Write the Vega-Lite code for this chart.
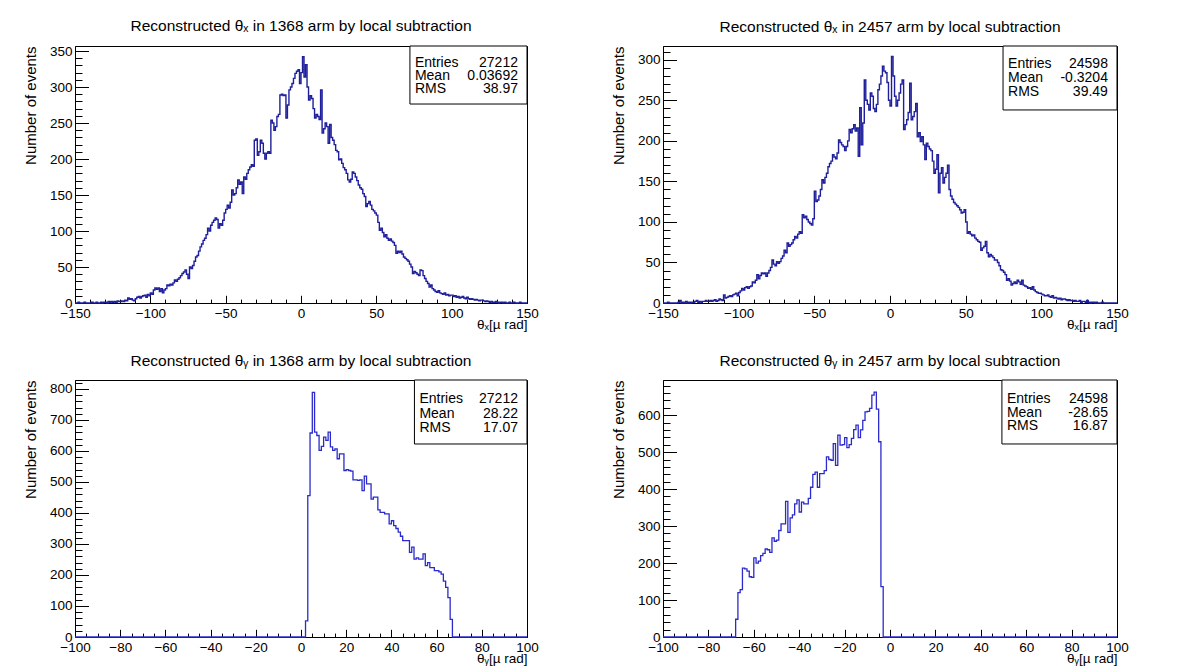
{
"$schema": "https://vega.github.io/schema/vega-lite/v6.json",
"background": "white",
"padding": {"left": 22, "top": 18, "right": 5, "bottom": 0},
"config": {
  "font": "Liberation Sans",
  "view": {"stroke": "black", "strokeWidth": 1},
  "axis": {"grid": false, "domainColor": "black", "tickColor": "black", "labelColor": "black", "titleColor": "black", "labelFont": "Liberation Sans", "titleFont": "Liberation Sans", "labelFontSize": 13.5, "titleFontSize": 15, "titleFontWeight": "normal", "labelFlush": false, "labelOverlap": false, "labelBound": false, "domainWidth": 1, "tickWidth": 1},
  "title": {"font": "Liberation Sans", "fontSize": 15.5, "fontWeight": "normal", "color": "black", "offset": 10}
},
"datasets": {
"h1": [
{"x":-150,"n":0},{"x":-149,"n":0},{"x":-148,"n":1},{"x":-147,"n":0},{"x":-146,"n":0},{"x":-145,"n":0},{"x":-144,"n":1},{"x":-143,"n":0},{"x":-142,"n":0},{"x":-141,"n":0},
{"x":-140,"n":0},{"x":-139,"n":1},{"x":-138,"n":0},{"x":-137,"n":0},{"x":-136,"n":1},{"x":-135,"n":0},{"x":-134,"n":0},{"x":-133,"n":1},{"x":-132,"n":0},{"x":-131,"n":1},
{"x":-130,"n":1},{"x":-129,"n":0},{"x":-128,"n":2},{"x":-127,"n":1},{"x":-126,"n":2},{"x":-125,"n":1},{"x":-124,"n":2},{"x":-123,"n":1},{"x":-122,"n":3},{"x":-121,"n":2},
{"x":-120,"n":2},{"x":-119,"n":3},{"x":-118,"n":2},{"x":-117,"n":4},{"x":-116,"n":3},{"x":-115,"n":7},{"x":-114,"n":5},{"x":-113,"n":6},{"x":-112,"n":4},{"x":-111,"n":3},
{"x":-110,"n":6},{"x":-109,"n":8},{"x":-108,"n":9},{"x":-107,"n":7},{"x":-106,"n":9},{"x":-105,"n":10},{"x":-104,"n":11},{"x":-103,"n":8},{"x":-102,"n":12},{"x":-101,"n":10},
{"x":-100,"n":14},{"x":-99,"n":12},{"x":-98,"n":18},{"x":-97,"n":21},{"x":-96,"n":19},{"x":-95,"n":21},{"x":-94,"n":16},{"x":-93,"n":20},{"x":-92,"n":14},{"x":-91,"n":18},
{"x":-90,"n":20},{"x":-89,"n":25},{"x":-88,"n":24},{"x":-87,"n":26},{"x":-86,"n":25},{"x":-85,"n":28},{"x":-84,"n":32},{"x":-83,"n":30},{"x":-82,"n":33},{"x":-81,"n":35},
{"x":-80,"n":38},{"x":-79,"n":41},{"x":-78,"n":43},{"x":-77,"n":46},{"x":-76,"n":40},{"x":-75,"n":34},{"x":-74,"n":50},{"x":-73,"n":48},{"x":-72,"n":52},{"x":-71,"n":58},
{"x":-70,"n":64},{"x":-69,"n":66},{"x":-68,"n":72},{"x":-67,"n":78},{"x":-66,"n":82},{"x":-65,"n":87},{"x":-64,"n":90},{"x":-63,"n":95},{"x":-62,"n":104},{"x":-61,"n":100},
{"x":-60,"n":108},{"x":-59,"n":112},{"x":-58,"n":115},{"x":-57,"n":118},{"x":-56,"n":116},{"x":-55,"n":104},{"x":-54,"n":110},{"x":-53,"n":108},{"x":-52,"n":115},{"x":-51,"n":125},
{"x":-50,"n":130},{"x":-49,"n":136},{"x":-48,"n":132},{"x":-47,"n":140},{"x":-46,"n":157},{"x":-45,"n":150},{"x":-44,"n":152},{"x":-43,"n":160},{"x":-42,"n":171},{"x":-41,"n":165},
{"x":-40,"n":168},{"x":-39,"n":152},{"x":-38,"n":175},{"x":-37,"n":172},{"x":-36,"n":180},{"x":-35,"n":185},{"x":-34,"n":189},{"x":-33,"n":192},{"x":-32,"n":190},{"x":-31,"n":226},
{"x":-30,"n":228},{"x":-29,"n":205},{"x":-28,"n":210},{"x":-27,"n":226},{"x":-26,"n":222},{"x":-25,"n":208},{"x":-24,"n":200},{"x":-23,"n":208},{"x":-22,"n":210},{"x":-21,"n":208},
{"x":-20,"n":254},{"x":-19,"n":250},{"x":-18,"n":240},{"x":-17,"n":245},{"x":-16,"n":259},{"x":-15,"n":262},{"x":-14,"n":289},{"x":-13,"n":290},{"x":-12,"n":288},{"x":-11,"n":289},
{"x":-10,"n":257},{"x":-9,"n":275},{"x":-8,"n":296},{"x":-7,"n":300},{"x":-6,"n":305},{"x":-5,"n":312},{"x":-4,"n":319},{"x":-3,"n":322},{"x":-2,"n":324},{"x":-1,"n":305},
{"x":0,"n":320},{"x":1,"n":342},{"x":2,"n":314},{"x":3,"n":331},{"x":4,"n":300},{"x":5,"n":282},{"x":6,"n":288},{"x":7,"n":284},{"x":8,"n":270},{"x":9,"n":257},
{"x":10,"n":262},{"x":11,"n":259},{"x":12,"n":255},{"x":13,"n":296},{"x":14,"n":236},{"x":15,"n":242},{"x":16,"n":250},{"x":17,"n":245},{"x":18,"n":222},{"x":19,"n":248},
{"x":20,"n":230},{"x":21,"n":226},{"x":22,"n":220},{"x":23,"n":212},{"x":24,"n":210},{"x":25,"n":199},{"x":26,"n":200},{"x":27,"n":194},{"x":28,"n":188},{"x":29,"n":185},
{"x":30,"n":180},{"x":31,"n":171},{"x":32,"n":168},{"x":33,"n":172},{"x":34,"n":182},{"x":35,"n":180},{"x":36,"n":175},{"x":37,"n":170},{"x":38,"n":164},{"x":39,"n":160},
{"x":40,"n":158},{"x":41,"n":152},{"x":42,"n":148},{"x":43,"n":134},{"x":44,"n":138},{"x":45,"n":141},{"x":46,"n":136},{"x":47,"n":130},{"x":48,"n":128},{"x":49,"n":125},
{"x":50,"n":122},{"x":51,"n":112},{"x":52,"n":101},{"x":53,"n":104},{"x":54,"n":98},{"x":55,"n":92},{"x":56,"n":95},{"x":57,"n":90},{"x":58,"n":87},{"x":59,"n":89},
{"x":60,"n":86},{"x":61,"n":84},{"x":62,"n":80},{"x":63,"n":69},{"x":64,"n":72},{"x":65,"n":70},{"x":66,"n":72},{"x":67,"n":68},{"x":68,"n":64},{"x":69,"n":62},
{"x":70,"n":60},{"x":71,"n":58},{"x":72,"n":54},{"x":73,"n":50},{"x":74,"n":41},{"x":75,"n":44},{"x":76,"n":42},{"x":77,"n":40},{"x":78,"n":38},{"x":79,"n":46},
{"x":80,"n":45},{"x":81,"n":38},{"x":82,"n":34},{"x":83,"n":30},{"x":84,"n":27},{"x":85,"n":22},{"x":86,"n":25},{"x":87,"n":20},{"x":88,"n":18},{"x":89,"n":16},
{"x":90,"n":15},{"x":91,"n":17},{"x":92,"n":14},{"x":93,"n":13},{"x":94,"n":12},{"x":95,"n":14},{"x":96,"n":11},{"x":97,"n":12},{"x":98,"n":10},{"x":99,"n":11},
{"x":100,"n":11},{"x":101,"n":9},{"x":102,"n":10},{"x":103,"n":8},{"x":104,"n":9},{"x":105,"n":7},{"x":106,"n":8},{"x":107,"n":9},{"x":108,"n":7},{"x":109,"n":6},
{"x":110,"n":8},{"x":111,"n":6},{"x":112,"n":5},{"x":113,"n":6},{"x":114,"n":5},{"x":115,"n":4},{"x":116,"n":5},{"x":117,"n":4},{"x":118,"n":3},{"x":119,"n":4},
{"x":120,"n":4},{"x":121,"n":3},{"x":122,"n":2},{"x":123,"n":3},{"x":124,"n":2},{"x":125,"n":1},{"x":126,"n":2},{"x":127,"n":1},{"x":128,"n":1},{"x":129,"n":2},
{"x":130,"n":1},{"x":131,"n":0},{"x":132,"n":1},{"x":133,"n":1},{"x":134,"n":0},{"x":135,"n":1},{"x":136,"n":0},{"x":137,"n":0},{"x":138,"n":1},{"x":139,"n":0},
{"x":140,"n":0},{"x":141,"n":1},{"x":142,"n":0},{"x":143,"n":0},{"x":144,"n":0},{"x":145,"n":1},{"x":146,"n":0},{"x":147,"n":0},{"x":148,"n":0},{"x":149,"n":0},{"x":150,"n":0}
],
"h2": [
{"x":-150,"n":0},{"x":-149,"n":0},{"x":-148,"n":0},{"x":-147,"n":1},{"x":-146,"n":0},{"x":-145,"n":0},{"x":-144,"n":0},{"x":-143,"n":0},{"x":-142,"n":0},{"x":-141,"n":0},
{"x":-140,"n":1},{"x":-139,"n":3},{"x":-138,"n":0},{"x":-137,"n":1},{"x":-136,"n":0},{"x":-135,"n":2},{"x":-134,"n":0},{"x":-133,"n":1},{"x":-132,"n":0},{"x":-131,"n":1},
{"x":-130,"n":1},{"x":-129,"n":2},{"x":-128,"n":3},{"x":-127,"n":1},{"x":-126,"n":2},{"x":-125,"n":1},{"x":-124,"n":2},{"x":-123,"n":2},{"x":-122,"n":3},{"x":-121,"n":2},
{"x":-120,"n":2},{"x":-119,"n":3},{"x":-118,"n":2},{"x":-117,"n":3},{"x":-116,"n":4},{"x":-115,"n":2},{"x":-114,"n":3},{"x":-113,"n":5},{"x":-112,"n":4},{"x":-111,"n":3},
{"x":-110,"n":10},{"x":-109,"n":6},{"x":-108,"n":7},{"x":-107,"n":8},{"x":-106,"n":9},{"x":-105,"n":8},{"x":-104,"n":10},{"x":-103,"n":11},{"x":-102,"n":12},{"x":-101,"n":9},
{"x":-100,"n":13},{"x":-99,"n":15},{"x":-98,"n":18},{"x":-97,"n":16},{"x":-96,"n":19},{"x":-95,"n":20},{"x":-94,"n":18},{"x":-93,"n":20},{"x":-92,"n":21},{"x":-91,"n":26},
{"x":-90,"n":25},{"x":-89,"n":28},{"x":-88,"n":35},{"x":-87,"n":30},{"x":-86,"n":34},{"x":-85,"n":37},{"x":-84,"n":36},{"x":-83,"n":37},{"x":-82,"n":33},{"x":-81,"n":37},
{"x":-80,"n":40},{"x":-79,"n":44},{"x":-78,"n":53},{"x":-77,"n":48},{"x":-76,"n":46},{"x":-75,"n":51},{"x":-74,"n":49},{"x":-73,"n":51},{"x":-72,"n":55},{"x":-71,"n":58},
{"x":-70,"n":65},{"x":-69,"n":62},{"x":-68,"n":74},{"x":-67,"n":70},{"x":-66,"n":72},{"x":-65,"n":74},{"x":-64,"n":78},{"x":-63,"n":82},{"x":-62,"n":80},{"x":-61,"n":85},
{"x":-60,"n":88},{"x":-59,"n":86},{"x":-58,"n":109},{"x":-57,"n":105},{"x":-56,"n":107},{"x":-55,"n":103},{"x":-54,"n":100},{"x":-53,"n":98},{"x":-52,"n":96},{"x":-51,"n":104},
{"x":-50,"n":138},{"x":-49,"n":125},{"x":-48,"n":127},{"x":-47,"n":132},{"x":-46,"n":140},{"x":-45,"n":152},{"x":-44,"n":148},{"x":-43,"n":155},{"x":-42,"n":160},{"x":-41,"n":168},
{"x":-40,"n":172},{"x":-39,"n":175},{"x":-38,"n":183},{"x":-37,"n":180},{"x":-36,"n":178},{"x":-35,"n":185},{"x":-34,"n":201},{"x":-33,"n":198},{"x":-32,"n":195},{"x":-31,"n":193},
{"x":-30,"n":188},{"x":-29,"n":193},{"x":-28,"n":200},{"x":-27,"n":214},{"x":-26,"n":210},{"x":-25,"n":215},{"x":-24,"n":220},{"x":-23,"n":212},{"x":-22,"n":216},{"x":-21,"n":181},
{"x":-20,"n":241},{"x":-19,"n":195},{"x":-18,"n":222},{"x":-17,"n":275},{"x":-16,"n":250},{"x":-15,"n":245},{"x":-14,"n":238},{"x":-13,"n":259},{"x":-12,"n":255},{"x":-11,"n":240},
{"x":-10,"n":236},{"x":-9,"n":245},{"x":-8,"n":263},{"x":-7,"n":270},{"x":-6,"n":280},{"x":-5,"n":292},{"x":-4,"n":286},{"x":-3,"n":284},{"x":-2,"n":272},{"x":-1,"n":250},
{"x":0,"n":243},{"x":1,"n":304},{"x":2,"n":280},{"x":3,"n":255},{"x":4,"n":243},{"x":5,"n":250},{"x":6,"n":259},{"x":7,"n":270},{"x":8,"n":275},{"x":9,"n":214},
{"x":10,"n":220},{"x":11,"n":226},{"x":12,"n":235},{"x":13,"n":271},{"x":14,"n":226},{"x":15,"n":230},{"x":16,"n":236},{"x":17,"n":246},{"x":18,"n":205},{"x":19,"n":210},
{"x":20,"n":199},{"x":21,"n":205},{"x":22,"n":195},{"x":23,"n":177},{"x":24,"n":197},{"x":25,"n":193},{"x":26,"n":190},{"x":27,"n":188},{"x":28,"n":175},{"x":29,"n":160},
{"x":30,"n":165},{"x":31,"n":183},{"x":32,"n":136},{"x":33,"n":160},{"x":34,"n":167},{"x":35,"n":148},{"x":36,"n":155},{"x":37,"n":160},{"x":38,"n":170},{"x":39,"n":140},
{"x":40,"n":132},{"x":41,"n":128},{"x":42,"n":124},{"x":43,"n":122},{"x":44,"n":120},{"x":45,"n":118},{"x":46,"n":115},{"x":47,"n":111},{"x":48,"n":112},{"x":49,"n":115},
{"x":50,"n":100},{"x":51,"n":86},{"x":52,"n":88},{"x":53,"n":85},{"x":54,"n":83},{"x":55,"n":84},{"x":56,"n":80},{"x":57,"n":78},{"x":58,"n":76},{"x":59,"n":75},
{"x":60,"n":65},{"x":61,"n":68},{"x":62,"n":70},{"x":63,"n":76},{"x":64,"n":62},{"x":65,"n":57},{"x":66,"n":60},{"x":67,"n":58},{"x":68,"n":56},{"x":69,"n":53},
{"x":70,"n":53},{"x":71,"n":50},{"x":72,"n":46},{"x":73,"n":41},{"x":74,"n":40},{"x":75,"n":38},{"x":76,"n":35},{"x":77,"n":28},{"x":78,"n":30},{"x":79,"n":27},
{"x":80,"n":22},{"x":81,"n":24},{"x":82,"n":26},{"x":83,"n":24},{"x":84,"n":28},{"x":85,"n":26},{"x":86,"n":23},{"x":87,"n":28},{"x":88,"n":22},{"x":89,"n":21},
{"x":90,"n":20},{"x":91,"n":18},{"x":92,"n":19},{"x":93,"n":17},{"x":94,"n":20},{"x":95,"n":16},{"x":96,"n":14},{"x":97,"n":13},{"x":98,"n":12},{"x":99,"n":12},
{"x":100,"n":11},{"x":101,"n":10},{"x":102,"n":9},{"x":103,"n":9},{"x":104,"n":10},{"x":105,"n":8},{"x":106,"n":7},{"x":107,"n":9},{"x":108,"n":6},{"x":109,"n":7},
{"x":110,"n":6},{"x":111,"n":5},{"x":112,"n":6},{"x":113,"n":4},{"x":114,"n":5},{"x":115,"n":5},{"x":116,"n":4},{"x":117,"n":3},{"x":118,"n":4},{"x":119,"n":3},
{"x":120,"n":3},{"x":121,"n":2},{"x":122,"n":3},{"x":123,"n":2},{"x":124,"n":2},{"x":125,"n":3},{"x":126,"n":1},{"x":127,"n":2},{"x":128,"n":2},{"x":129,"n":1},
{"x":130,"n":3},{"x":131,"n":1},{"x":132,"n":0},{"x":133,"n":1},{"x":134,"n":1},{"x":135,"n":0},{"x":136,"n":1},{"x":137,"n":0},{"x":138,"n":0},{"x":139,"n":0},
{"x":140,"n":1},{"x":141,"n":0},{"x":142,"n":0},{"x":143,"n":0},{"x":144,"n":0},{"x":145,"n":0},{"x":146,"n":0},{"x":147,"n":0},{"x":148,"n":0},{"x":149,"n":0},{"x":150,"n":0}
],
"h3": [
{"x":-100,"n":0},{"x":2,"n":52},{"x":3,"n":456},{"x":4,"n":658},{"x":5,"n":789},{"x":6,"n":661},{"x":7,"n":650},{"x":8,"n":602},{"x":9,"n":615},{"x":10,"n":645},
{"x":11,"n":634},{"x":12,"n":661},{"x":13,"n":613},{"x":14,"n":602},{"x":15,"n":607},{"x":16,"n":575},{"x":17,"n":591},{"x":18,"n":591},{"x":19,"n":537},{"x":20,"n":540},
{"x":21,"n":537},{"x":22,"n":535},{"x":23,"n":507},{"x":24,"n":507},{"x":25,"n":505},{"x":26,"n":507},{"x":27,"n":472},{"x":28,"n":519},{"x":29,"n":494},{"x":30,"n":494},
{"x":31,"n":445},{"x":32,"n":451},{"x":33,"n":451},{"x":34,"n":410},{"x":35,"n":402},{"x":36,"n":402},{"x":37,"n":397},{"x":38,"n":397},{"x":39,"n":365},{"x":40,"n":375},
{"x":41,"n":359},{"x":42,"n":350},{"x":43,"n":338},{"x":44,"n":325},{"x":45,"n":311},{"x":46,"n":311},{"x":47,"n":311},{"x":48,"n":273},{"x":49,"n":290},{"x":50,"n":251},
{"x":51,"n":255},{"x":52,"n":251},{"x":53,"n":251},{"x":54,"n":268},{"x":55,"n":230},{"x":56,"n":240},{"x":57,"n":224},{"x":58,"n":224},{"x":59,"n":214},{"x":60,"n":214},
{"x":61,"n":210},{"x":62,"n":203},{"x":63,"n":180},{"x":64,"n":160},{"x":65,"n":127},{"x":66,"n":57},{"x":67,"n":0},{"x":100,"n":0}
],
"h4": [
{"x":-100,"n":0},{"x":-68,"n":48},{"x":-67,"n":120},{"x":-66,"n":128},{"x":-65,"n":186},{"x":-64,"n":184},{"x":-63,"n":178},{"x":-62,"n":163},{"x":-61,"n":161},{"x":-60,"n":214},
{"x":-59,"n":200},{"x":-58,"n":205},{"x":-57,"n":220},{"x":-56,"n":226},{"x":-55,"n":238},{"x":-54,"n":236},{"x":-53,"n":229},{"x":-52,"n":268},{"x":-51,"n":259},{"x":-50,"n":262},
{"x":-49,"n":288},{"x":-48,"n":306},{"x":-47,"n":306},{"x":-46,"n":367},{"x":-45,"n":283},{"x":-44,"n":322},{"x":-43,"n":330},{"x":-42,"n":360},{"x":-41,"n":371},{"x":-40,"n":338},
{"x":-39,"n":365},{"x":-38,"n":360},{"x":-37,"n":360},{"x":-36,"n":375},{"x":-35,"n":405},{"x":-34,"n":440},{"x":-33,"n":446},{"x":-32,"n":405},{"x":-31,"n":442},{"x":-30,"n":442},
{"x":-29,"n":450},{"x":-28,"n":487},{"x":-27,"n":480},{"x":-26,"n":478},{"x":-25,"n":523},{"x":-24,"n":464},{"x":-23,"n":546},{"x":-22,"n":519},{"x":-21,"n":520},{"x":-20,"n":539},
{"x":-19,"n":512},{"x":-18,"n":520},{"x":-17,"n":537},{"x":-16,"n":561},{"x":-15,"n":573},{"x":-14,"n":539},{"x":-13,"n":560},{"x":-12,"n":586},{"x":-11,"n":609},{"x":-10,"n":610},
{"x":-9,"n":618},{"x":-8,"n":654},{"x":-7,"n":662},{"x":-6,"n":616},{"x":-5,"n":528},{"x":-4,"n":136},{"x":-3,"n":0},{"x":100,"n":0}
]
},
"columns": 2,
"spacing": {"row": 77, "column": 136},
"bounds": "flush",
"concat": [
{
 "width": 452, "height": 257,
 "title": "Reconstructed θₓ in 1368 arm by local subtraction",
 "resolve": {"scale": {"y": "independent"}, "axis": {"x": "independent", "y": "independent"}},
 "layer": [
  {
   "data": {"name": "h1"},
   "mark": {"type": "line", "interpolate": "step-after", "color": "#1f1f9c", "strokeWidth": 1.4},
   "encoding": {
    "x": {"field": "x", "type": "quantitative", "scale": {"domain": [-150, 150], "nice": false, "zero": false},
          "axis": {"orient": "bottom", "values": [-150,-100,-50,0,50,100,150], "tickSize": -7.7, "labelPadding": 11.5, "title": "θₓ[µ rad]", "titleAnchor": "end", "titlePadding": -3, "titleFontSize": 13.5}},
    "y": {"field": "n", "type": "quantitative", "scale": {"domain": [0, 357], "nice": false},
          "axis": {"orient": "left", "values": [0,50,100,150,200,250,300,350], "tickSize": -13.5, "labelPadding": 16.5, "title": "Number of events", "titleAnchor": "end", "titlePadding": 11}}
   }
  },
  {
   "data": {"values": [{"box": "stats"}]},
   "mark": {"type": "rect", "fill": "white", "stroke": "black", "strokeWidth": 1},
   "encoding": {
    "x": {"datum": 72.3, "type": "quantitative", "scale": {"domain": [-150, 150], "nice": false, "zero": false},
          "axis": {"orient": "bottom", "values": [-140,-130,-120,-110,-90,-80,-70,-60,-40,-30,-20,-10,10,20,30,40,60,70,80,90,110,120,130,140], "tickSize": -3.9, "labels": false, "domain": false, "title": null}},
    "x2": {"datum": 150},
    "y": {"datum": 357, "type": "quantitative", "scale": {"domain": [0, 357], "nice": false},
          "axis": {"orient": "left", "values": [10,20,30,40,60,70,80,90,110,120,130,140,160,170,180,190,210,220,230,240,260,270,280,290,310,320,330,340], "tickSize": -7, "labels": false, "domain": false, "title": null}},
    "y2": {"datum": 276.4}
   }
  },
  {
   "data": {"values": [{"stat": "Entries", "val": "27212"}, {"stat": "Mean", "val": "0.03692"}, {"stat": "RMS", "val": "38.97"}]},
   "layer": [
    {"mark": {"type": "text", "align": "left", "baseline": "middle", "fontSize": 14, "color": "black"},
     "encoding": {"x": {"datum": 75.6, "type": "quantitative", "axis": null}, "y": {"field": "stat", "type": "nominal", "scale": {"type": "point", "domain": ["Entries", "Mean", "RMS"], "range": [10, 50]}, "axis": null}, "text": {"field": "stat"}}},
    {"mark": {"type": "text", "align": "right", "baseline": "middle", "fontSize": 14, "color": "black"},
     "encoding": {"x": {"datum": 144.0, "type": "quantitative", "axis": null}, "y": {"field": "stat", "type": "nominal", "scale": {"type": "point", "domain": ["Entries", "Mean", "RMS"], "range": [10, 50]}, "axis": null}, "text": {"field": "val"}}}
   ]
  }
 ]
},
{
 "width": 454, "height": 257,
 "title": "Reconstructed θₓ in 2457 arm by local subtraction",
 "resolve": {"scale": {"y": "independent"}, "axis": {"x": "independent", "y": "independent"}},
 "layer": [
  {
   "data": {"name": "h2"},
   "mark": {"type": "line", "interpolate": "step-after", "color": "#1f1f9c", "strokeWidth": 1.4},
   "encoding": {
    "x": {"field": "x", "type": "quantitative", "scale": {"domain": [-150, 150], "nice": false, "zero": false},
          "axis": {"orient": "bottom", "values": [-150,-100,-50,0,50,100,150], "tickSize": -7.7, "labelPadding": 11.5, "title": "θₓ[µ rad]", "titleAnchor": "end", "titlePadding": -3, "titleFontSize": 13.5}},
    "y": {"field": "n", "type": "quantitative", "scale": {"domain": [0, 317], "nice": false},
          "axis": {"orient": "left", "values": [0,50,100,150,200,250,300], "tickSize": -13.5, "labelPadding": 16.5, "title": "Number of events", "titleAnchor": "end", "titlePadding": 11}}
   }
  },
  {
   "data": {"values": [{"box": "stats"}]},
   "mark": {"type": "rect", "fill": "white", "stroke": "black", "strokeWidth": 1},
   "encoding": {
    "x": {"datum": 74.7, "type": "quantitative", "scale": {"domain": [-150, 150], "nice": false, "zero": false},
          "axis": {"orient": "bottom", "values": [-140,-130,-120,-110,-90,-80,-70,-60,-40,-30,-20,-10,10,20,30,40,60,70,80,90,110,120,130,140], "tickSize": -3.9, "labels": false, "domain": false, "title": null}},
    "x2": {"datum": 150},
    "y": {"datum": 317, "type": "quantitative", "scale": {"domain": [0, 317], "nice": false},
          "axis": {"orient": "left", "values": [10,20,30,40,60,70,80,90,110,120,130,140,160,170,180,190,210,220,230,240,260,270,280,290,310], "tickSize": -7, "labels": false, "domain": false, "title": null}},
    "y2": {"datum": 238.1}
   }
  },
  {
   "data": {"values": [{"stat": "Entries", "val": "24598"}, {"stat": "Mean", "val": "-0.3204"}, {"stat": "RMS", "val": "39.49"}]},
   "layer": [
    {"mark": {"type": "text", "align": "left", "baseline": "middle", "fontSize": 14, "color": "black"},
     "encoding": {"x": {"datum": 78.0, "type": "quantitative", "axis": null}, "y": {"field": "stat", "type": "nominal", "scale": {"type": "point", "domain": ["Entries", "Mean", "RMS"], "range": [11, 53]}, "axis": null}, "text": {"field": "stat"}}},
    {"mark": {"type": "text", "align": "right", "baseline": "middle", "fontSize": 14, "color": "black"},
     "encoding": {"x": {"datum": 144.0, "type": "quantitative", "axis": null}, "y": {"field": "stat", "type": "nominal", "scale": {"type": "point", "domain": ["Entries", "Mean", "RMS"], "range": [11, 53]}, "axis": null}, "text": {"field": "val"}}}
   ]
  }
 ]
},
{
 "width": 452, "height": 257,
 "title": "Reconstructed θᵧ in 1368 arm by local subtraction",
 "resolve": {"scale": {"y": "independent"}, "axis": {"x": "independent", "y": "independent"}},
 "layer": [
  {
   "data": {"name": "h3"},
   "mark": {"type": "line", "interpolate": "step-after", "color": "#2b2bcc", "strokeWidth": 1.3},
   "encoding": {
    "x": {"field": "x", "type": "quantitative", "scale": {"domain": [-100, 100], "nice": false, "zero": false},
          "axis": {"orient": "bottom", "values": [-100,-80,-60,-40,-20,0,20,40,60,80,100], "tickSize": -7.7, "labelPadding": 11.5, "title": "θᵧ[µ rad]", "titleAnchor": "end", "titlePadding": -3, "titleFontSize": 13.5}},
    "y": {"field": "n", "type": "quantitative", "scale": {"domain": [0, 829], "nice": false},
          "axis": {"orient": "left", "values": [0,100,200,300,400,500,600,700,800], "tickSize": -13.5, "labelPadding": 16.5, "title": "Number of events", "titleAnchor": "end", "titlePadding": 11}}
   }
  },
  {
   "data": {"values": [{"box": "stats"}]},
   "mark": {"type": "rect", "fill": "white", "stroke": "black", "strokeWidth": 1},
   "encoding": {
    "x": {"datum": 50.2, "type": "quantitative", "scale": {"domain": [-100, 100], "nice": false, "zero": false},
          "axis": {"orient": "bottom", "values": [-95,-90,-85,-75,-70,-65,-55,-50,-45,-35,-30,-25,-15,-10,-5,5,10,15,25,30,35,45,50,55,65,70,75,85,90,95], "tickSize": -3.9, "labels": false, "domain": false, "title": null}},
    "x2": {"datum": 100},
    "y": {"datum": 829, "type": "quantitative", "scale": {"domain": [0, 829], "nice": false},
          "axis": {"orient": "left", "values": [20,40,60,80,120,140,160,180,220,240,260,280,320,340,360,380,420,440,460,480,520,540,560,580,620,640,660,680,720,740,760,780,820], "tickSize": -7, "labels": false, "domain": false, "title": null}},
    "y2": {"datum": 622.6}
   }
  },
  {
   "data": {"values": [{"stat": "Entries", "val": "27212"}, {"stat": "Mean", "val": "28.22"}, {"stat": "RMS", "val": "17.07"}]},
   "layer": [
    {"mark": {"type": "text", "align": "left", "baseline": "middle", "fontSize": 14, "color": "black"},
     "encoding": {"x": {"datum": 52.4, "type": "quantitative", "axis": null}, "y": {"field": "stat", "type": "nominal", "scale": {"type": "point", "domain": ["Entries", "Mean", "RMS"], "range": [12, 55]}, "axis": null}, "text": {"field": "stat"}}},
    {"mark": {"type": "text", "align": "right", "baseline": "middle", "fontSize": 14, "color": "black"},
     "encoding": {"x": {"datum": 96.0, "type": "quantitative", "axis": null}, "y": {"field": "stat", "type": "nominal", "scale": {"type": "point", "domain": ["Entries", "Mean", "RMS"], "range": [12, 55]}, "axis": null}, "text": {"field": "val"}}}
   ]
  }
 ]
},
{
 "width": 454, "height": 257,
 "title": "Reconstructed θᵧ in 2457 arm by local subtraction",
 "resolve": {"scale": {"y": "independent"}, "axis": {"x": "independent", "y": "independent"}},
 "layer": [
  {
   "data": {"name": "h4"},
   "mark": {"type": "line", "interpolate": "step-after", "color": "#2b2bcc", "strokeWidth": 1.3},
   "encoding": {
    "x": {"field": "x", "type": "quantitative", "scale": {"domain": [-100, 100], "nice": false, "zero": false},
          "axis": {"orient": "bottom", "values": [-100,-80,-60,-40,-20,0,20,40,60,80,100], "tickSize": -7.7, "labelPadding": 11.5, "title": "θᵧ[µ rad]", "titleAnchor": "end", "titlePadding": -3, "titleFontSize": 13.5}},
    "y": {"field": "n", "type": "quantitative", "scale": {"domain": [0, 695], "nice": false},
          "axis": {"orient": "left", "values": [0,100,200,300,400,500,600], "tickSize": -13.5, "labelPadding": 16.5, "title": "Number of events", "titleAnchor": "end", "titlePadding": 11}}
   }
  },
  {
   "data": {"values": [{"box": "stats"}]},
   "mark": {"type": "rect", "fill": "white", "stroke": "black", "strokeWidth": 1},
   "encoding": {
    "x": {"datum": 49.3, "type": "quantitative", "scale": {"domain": [-100, 100], "nice": false, "zero": false},
          "axis": {"orient": "bottom", "values": [-95,-90,-85,-75,-70,-65,-55,-50,-45,-35,-30,-25,-15,-10,-5,5,10,15,25,30,35,45,50,55,65,70,75,85,90,95], "tickSize": -3.9, "labels": false, "domain": false, "title": null}},
    "x2": {"datum": 100},
    "y": {"datum": 695, "type": "quantitative", "scale": {"domain": [0, 695], "nice": false},
          "axis": {"orient": "left", "values": [20,40,60,80,120,140,160,180,220,240,260,280,320,340,360,380,420,440,460,480,520,540,560,580,620,640,660,680], "tickSize": -7, "labels": false, "domain": false, "title": null}},
    "y2": {"datum": 522}
   }
  },
  {
   "data": {"values": [{"stat": "Entries", "val": "24598"}, {"stat": "Mean", "val": "-28.65"}, {"stat": "RMS", "val": "16.87"}]},
   "layer": [
    {"mark": {"type": "text", "align": "left", "baseline": "middle", "fontSize": 14, "color": "black"},
     "encoding": {"x": {"datum": 51.5, "type": "quantitative", "axis": null}, "y": {"field": "stat", "type": "nominal", "scale": {"type": "point", "domain": ["Entries", "Mean", "RMS"], "range": [12, 53]}, "axis": null}, "text": {"field": "stat"}}},
    {"mark": {"type": "text", "align": "right", "baseline": "middle", "fontSize": 14, "color": "black"},
     "encoding": {"x": {"datum": 96.0, "type": "quantitative", "axis": null}, "y": {"field": "stat", "type": "nominal", "scale": {"type": "point", "domain": ["Entries", "Mean", "RMS"], "range": [12, 53]}, "axis": null}, "text": {"field": "val"}}}
   ]
  }
 ]
}
]
}
